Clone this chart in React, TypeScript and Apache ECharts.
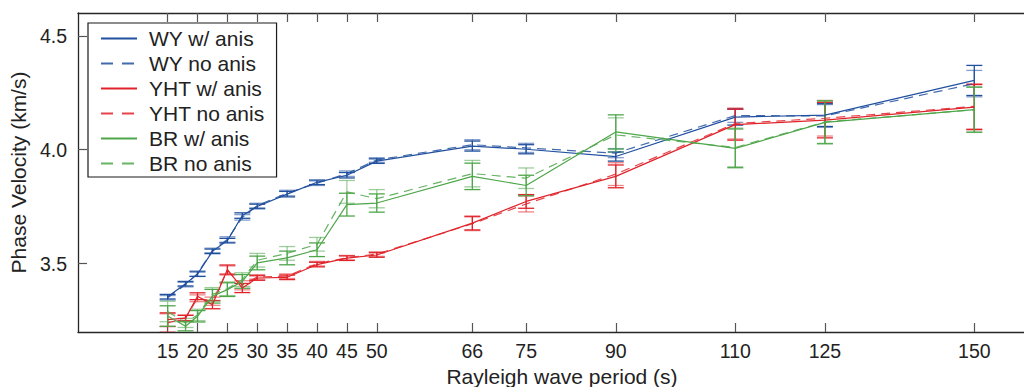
import React, { useEffect, useRef } from 'react';
import * as echarts from 'echarts';

// ---------- data ----------
const periods = [15, 18, 20, 22.5, 25, 27.5, 30, 35, 40, 45, 50, 66, 75, 90, 110, 125, 150];
const xTickValues = [15, 20, 25, 30, 35, 40, 45, 50, 66, 75, 90, 110, 125, 150];
const yTickValues = [3.5, 4.0, 4.5];

const wyAnis = [3.355, 3.412, 3.454, 3.554, 3.601, 3.711, 3.751, 3.805, 3.857, 3.888, 3.95, 4.016, 4.002, 3.97, 4.143, 4.152, 4.304];
const wyAnisErr = [0.01, 0.01, 0.01, 0.01, 0.01, 0.012, 0.01, 0.012, 0.01, 0.012, 0.01, 0.022, 0.02, 0.02, 0.035, 0.05, 0.066];
const wyNo = [3.35, 3.408, 3.456, 3.558, 3.606, 3.703, 3.755, 3.81, 3.853, 3.895, 3.955, 4.022, 4.008, 3.985, 4.15, 4.148, 4.29];
const wyNoErr = [0.01, 0.01, 0.012, 0.01, 0.012, 0.012, 0.01, 0.012, 0.01, 0.012, 0.01, 0.022, 0.02, 0.02, 0.03, 0.05, 0.058];

const yhtAnis = [3.254, 3.261, 3.357, 3.32, 3.474, 3.393, 3.437, 3.44, 3.496, 3.524, 3.538, 3.678, 3.773, 3.883, 4.11, 4.13, 4.187];
const yhtAnisErr = [0.03, 0.012, 0.015, 0.018, 0.02, 0.02, 0.01, 0.01, 0.01, 0.01, 0.01, 0.03, 0.03, 0.05, 0.068, 0.078, 0.099];
const yhtNo = [3.24, 3.262, 3.348, 3.335, 3.47, 3.405, 3.442, 3.445, 3.5, 3.526, 3.542, 3.675, 3.762, 3.893, 4.115, 4.138, 4.19];
const yhtNoErr = [0.04, 0.012, 0.015, 0.018, 0.02, 0.02, 0.01, 0.01, 0.01, 0.01, 0.01, 0.03, 0.035, 0.05, 0.068, 0.078, 0.099];

const brAnis = [3.27, 3.225, 3.269, 3.357, 3.386, 3.422, 3.503, 3.525, 3.561, 3.759, 3.766, 3.883, 3.843, 4.078, 4.006, 4.12, 4.176];
const brAnisErr = [0.045, 0.02, 0.025, 0.03, 0.03, 0.03, 0.03, 0.03, 0.03, 0.05, 0.04, 0.058, 0.045, 0.075, 0.085, 0.094, 0.099];
const brNo = [3.29, 3.24, 3.275, 3.365, 3.39, 3.43, 3.515, 3.545, 3.585, 3.815, 3.785, 3.895, 3.875, 4.065, 4.01, 4.122, 4.175];
const brNoErr = [0.045, 0.02, 0.025, 0.03, 0.03, 0.03, 0.03, 0.03, 0.03, 0.05, 0.04, 0.058, 0.045, 0.075, 0.085, 0.094, 0.099];

const BLUE = '#21509e';
const RED = '#e0232a';
const GREEN = '#4ea64a';
const FONT = 'Liberation Sans, Arial, Helvetica, sans-serif';

type SeriesDef = { name: string; values: number[]; errs: number[]; color: string; dashed: boolean };

const defs: SeriesDef[] = [
  { name: 'WY w/ anis', values: wyAnis, errs: wyAnisErr, color: BLUE, dashed: false },
  { name: 'WY no anis', values: wyNo, errs: wyNoErr, color: BLUE, dashed: true },
  { name: 'YHT w/ anis', values: yhtAnis, errs: yhtAnisErr, color: RED, dashed: false },
  { name: 'YHT no anis', values: yhtNo, errs: yhtNoErr, color: RED, dashed: true },
  { name: 'BR w/ anis', values: brAnis, errs: brAnisErr, color: GREEN, dashed: false },
  { name: 'BR no anis', values: brNo, errs: brNoErr, color: GREEN, dashed: true },
];

function buildOption() {
  const series: any[] = [];
  defs.forEach((d) => {
    series.push({
      name: d.name,
      type: 'line',
      xAxisIndex: 0,
      yAxisIndex: 0,
      symbol: 'none',
      data: periods.map((p, i) => [p, d.values[i]]),
      lineStyle: { color: d.color, width: 1.2, type: d.dashed ? [9, 6] : 'solid', opacity: d.dashed ? 0.85 : 1 },
      itemStyle: { color: d.color },
      z: 3,
    });
    series.push({
      name: d.name + ' err',
      type: 'custom',
      xAxisIndex: 0,
      yAxisIndex: 0,
      clip: true,
      data: periods.map((p, i) => [p, d.values[i] - d.errs[i], d.values[i] + d.errs[i]]),
      renderItem: (params: any, api: any) => {
        const x = api.value(0);
        const lo = api.coord([x, api.value(1)]);
        const hi = api.coord([x, api.value(2)]);
        const hw = 8;
        const style = { stroke: d.color, lineWidth: 1.3, opacity: d.dashed ? 0.55 : 1 };
        return {
          type: 'group',
          children: [
            { type: 'line', shape: { x1: lo[0], y1: lo[1], x2: hi[0], y2: hi[1] }, style },
            { type: 'line', shape: { x1: lo[0] - hw, y1: lo[1], x2: lo[0] + hw, y2: lo[1] }, style },
            { type: 'line', shape: { x1: hi[0] - hw, y1: hi[1], x2: hi[0] + hw, y2: hi[1] }, style },
          ],
        };
      },
      z: 2,
    });
  });

  const axisLineStyle = { color: '#262626', width: 1.3 };
  const tickStyle = { color: '#555', width: 1.2 };

  return {
    animation: false,
    backgroundColor: '#fff',
    textStyle: { fontFamily: FONT },
    grid: { left: 78, top: 13, width: 968, height: 319, containLabel: false, outerBoundsMode: 'none' },
    legend: {
      data: defs.map((d) => ({
        name: d.name,
        lineStyle: { type: d.dashed ? [12, 9] : 'solid', width: 2, color: d.color },
      })),
      orient: 'vertical',
      left: 88,
      top: 23,
      padding: [5, 12, 3, 12],
      itemGap: 4,
      itemWidth: 36,
      itemHeight: 14,
      borderColor: '#1a1a1a',
      borderWidth: 1.2,
      backgroundColor: '#fff',
      selectedMode: false,
      itemStyle: { opacity: 0 },
      textStyle: { fontSize: 21, color: '#222', fontFamily: FONT, padding: [0, 0, 0, 7], lineHeight: 21 },
    },
    xAxis: [
      {
        type: 'value',
        min: 0,
        max: 162,
        position: 'bottom',
        name: 'Rayleigh wave period (s)',
        nameLocation: 'middle',
        nameGap: 34,
        nameTextStyle: { fontSize: 21, color: '#222', fontFamily: FONT },
        axisLine: { show: true, lineStyle: axisLineStyle },
        axisTick: { show: true, inside: true, length: 9, lineStyle: tickStyle, customValues: xTickValues },
        axisLabel: { show: true, margin: 9, fontSize: 19.5, color: '#222', fontFamily: FONT, customValues: xTickValues },
        splitLine: { show: false },
      },
      {
        type: 'value',
        min: 0,
        max: 162,
        position: 'top',
        axisLine: { show: true, lineStyle: axisLineStyle },
        axisTick: { show: true, inside: true, length: 9, lineStyle: tickStyle, customValues: xTickValues },
        axisLabel: { show: false },
        splitLine: { show: false },
      },
    ],
    yAxis: [
      {
        type: 'value',
        min: 3.2,
        max: 4.6,
        position: 'left',
        name: 'Phase Velocity (km/s)',
        nameLocation: 'middle',
        nameGap: 48,
        nameTextStyle: { fontSize: 21, color: '#222', fontFamily: FONT },
        axisLine: { show: true, lineStyle: axisLineStyle },
        axisTick: { show: true, inside: true, length: 9, lineStyle: tickStyle, customValues: yTickValues },
        axisLabel: {
          show: true,
          margin: 11,
          fontSize: 19.5,
          color: '#222',
          fontFamily: FONT,
          customValues: yTickValues,
          formatter: (v: number) => v.toFixed(1),
        },
        splitLine: { show: false },
      },
    ],
    series,
  };
}

export default function App() {
  const ref = useRef<HTMLDivElement>(null);
  useEffect(() => {
    if (!ref.current) return;
    const chart = echarts.init(ref.current, undefined, { renderer: 'svg' });
    chart.setOption(buildOption() as any);
    return () => chart.dispose();
  }, []);
  return (
    <div
      ref={ref}
      style={{ position: 'absolute', left: 0, top: 0, width: 1024, height: 387, background: '#fff' }}
    />
  );
}
